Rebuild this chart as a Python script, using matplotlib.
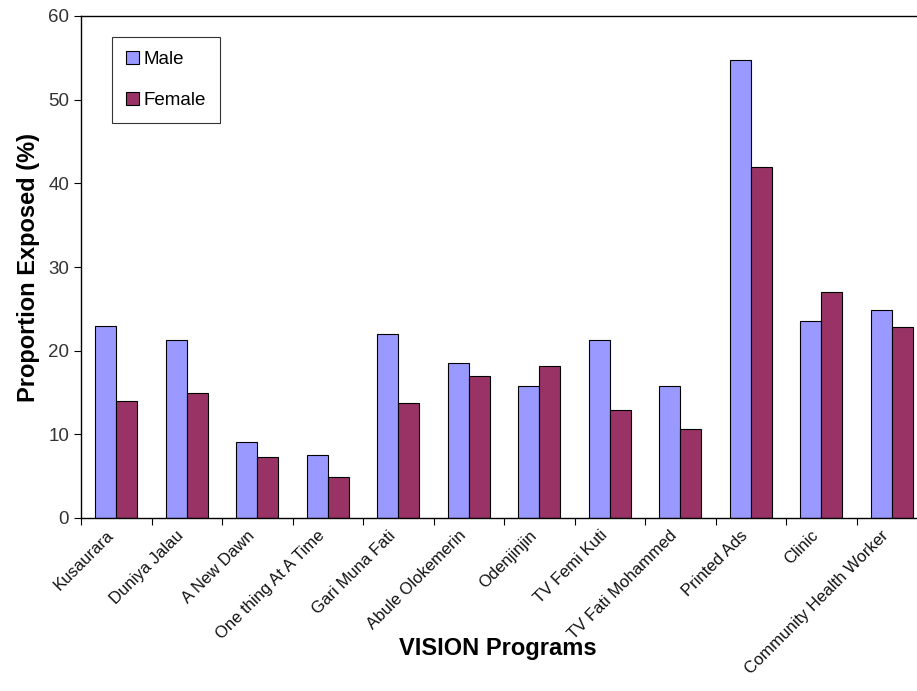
import matplotlib
matplotlib.use("Agg")
import matplotlib.pyplot as plt
import numpy as np

categories = ["Kusaurara", "Duniya Jalau", "A New Dawn", "One thing At A Time",
              "Gari Muna Fati", "Abule Olokemerin", "Odenjinjin", "TV Femi Kuti",
              "TV Fati Mohammed", "Printed Ads", "Clinic", "Community Health Worker"]
male = [22.9, 21.3, 9.1, 7.5, 22.0, 18.5, 15.8, 21.3, 15.8, 54.8, 23.6, 24.9]
female = [14.0, 15.0, 7.3, 4.9, 13.7, 17.0, 18.2, 12.9, 10.6, 42.0, 27.0, 22.8]
yticks = [0, 10, 20, 30, 40, 50, 60]

plt.rcParams['font.family'] = ['Liberation Sans', 'DejaVu Sans']

fig = plt.figure(figsize=(9.17, 6.91), dpi=100)
ax = fig.add_axes([81/917, 1-518/691, 846/917, (518-16)/691])

x = np.arange(len(categories))
w = 0.3
ax.bar(x - w/2, male, w, color='#9999FF', edgecolor='black', linewidth=0.8, label='Male')
ax.bar(x + w/2, female, w, color='#993366', edgecolor='black', linewidth=0.8, label='Female')

ax.set_xlim(-0.5, len(categories) - 0.5)
ax.set_ylim(0, 60)
ax.set_yticks(yticks)
ax.set_yticklabels([str(v) for v in yticks], fontsize=13.5, color='#333333')
ax.tick_params(axis='y', direction='out', length=5, width=0.8)

ax.set_xticks(np.arange(-0.5, len(categories), 1), minor=False)
ax.set_xticklabels([])
ax.tick_params(axis='x', direction='out', length=5, width=0.8)
for i, c in enumerate(categories):
    ax.annotate(c, xy=(i - 0.15, 0), xycoords=('data', 'axes fraction'),
                xytext=(0, -7), textcoords='offset points',
                rotation=45, ha='right', va='top', rotation_mode='anchor',
                fontsize=12, color='#111111')

ax.spines['right'].set_visible(False)
for s in ['top', 'left', 'bottom']:
    ax.spines[s].set_linewidth(1.0)

ax.set_ylabel('Proportion Exposed (%)', fontsize=17, fontweight='bold', labelpad=6)
fig.text(498/917, 1-648/691, 'VISION Programs', ha='center', va='center',
         fontsize=17, fontweight='bold')

leg = ax.legend(loc='upper left', bbox_to_anchor=((112-81)/846, (518-37)/502),
                frameon=True, fancybox=False, edgecolor='black', fontsize=13.5,
                handlelength=0.7, handleheight=0.7, handletextpad=0.25,
                labelspacing=1.25, borderpad=0.75, borderaxespad=0)
leg.get_frame().set_linewidth(0.8)

fig.savefig('out.png', dpi=100)
